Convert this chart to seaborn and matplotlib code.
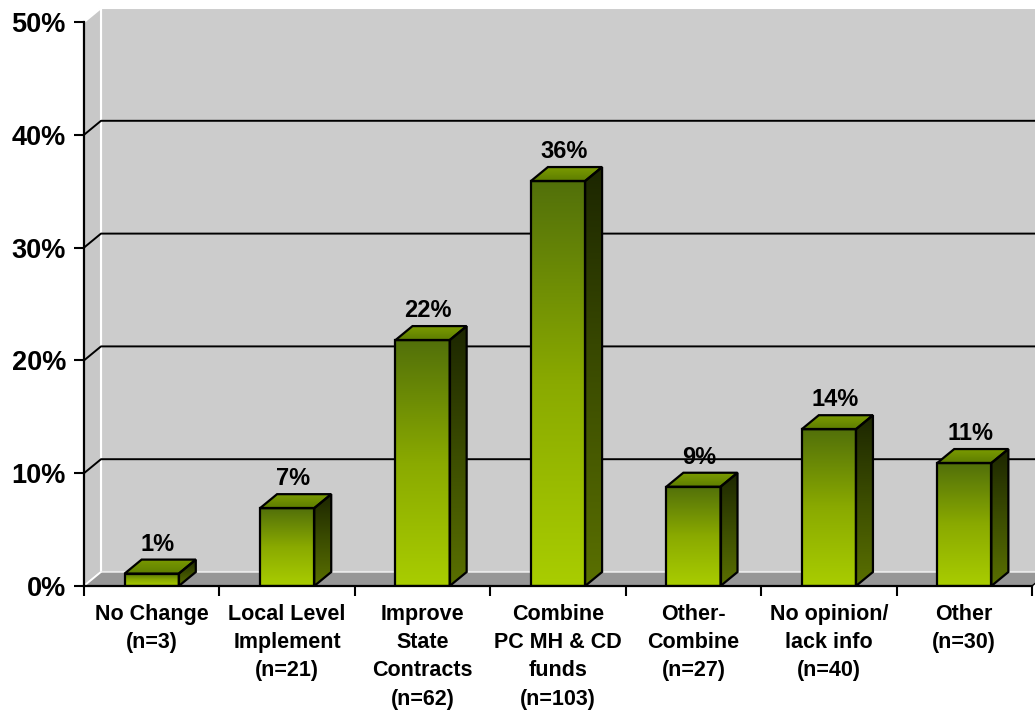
import numpy as np
import pandas as pd
import matplotlib
matplotlib.use("Agg")
import matplotlib.pyplot as plt
import seaborn as sns
from matplotlib.patches import Polygon, Rectangle
from matplotlib.colors import LinearSegmentedColormap

categories = ["No Change\n(n=3)", "Local Level\nImplement\n(n=21)",
              "Improve\nState\nContracts\n(n=62)", "Combine\nPC MH & CD\nfunds\n(n=103)",
              "Other-\nCombine\n(n=27)", "No opinion/\nlack info\n(n=40)", "Other\n(n=30)"]
values = [1.1, 6.9, 21.8, 35.9, 8.8, 13.9, 10.9]
value_labels = ["1%", "7%", "22%", "36%", "9%", "14%", "11%"]
yticks = [0, 10, 20, 30, 40, 50]
ytick_labels = ["0%", "10%", "20%", "30%", "40%", "50%"]

sns.set_theme(style="white")
plt.rcParams['font.family'] = ['Liberation Sans', 'DejaVu Sans']
plt.rcParams['text.color'] = 'black'
plt.rcParams['xtick.color'] = 'black'
plt.rcParams['ytick.color'] = 'black'
plt.rcParams['xtick.labelcolor'] = 'black'
plt.rcParams['ytick.labelcolor'] = 'black'

W, H = 1035, 714
fig = plt.figure(figsize=(W / 100, H / 100), dpi=100)
fig.patch.set_facecolor("white")
ax = fig.add_axes([84 / W, 128 / H, 948 / W, 564 / H])
ax.patch.set_visible(False)

df = pd.DataFrame({"cat": categories, "val": values})
sns.barplot(data=df, x="cat", y="val", color="#a8cc00", width=0.4, saturation=1,
            ax=ax, zorder=7)
bars = list(ax.patches)

DX = 17 / 135.43
DY = 14 / 11.28
XL, XR = -0.5, 6.5

# walls and floor
back = Rectangle((XL + DX, DY), XR - XL, 50, facecolor="#cccccc", edgecolor="white",
                 lw=1.5, clip_on=False, zorder=0)
ax.add_patch(back)
left = Polygon([(XL, 0), (XL + DX, DY), (XL + DX, 50 + DY), (XL, 50)], closed=True,
               facecolor="#c8c8c8", edgecolor="white", lw=1.5, clip_on=False, zorder=0.5)
ax.add_patch(left)
floor = Polygon([(XL, 0), (XR, 0), (XR + DX, DY), (XL + DX, DY)], closed=True,
                facecolor="#979797", edgecolor="none", clip_on=False, zorder=1)
ax.add_patch(floor)
ax.plot([XL + DX, XR + DX], [DY, DY], color="#e6e6e6", lw=1.2, clip_on=False, zorder=1.5)
ax.plot([XL, XL + DX], [0, DY], color="white", lw=1.2, clip_on=False, zorder=1.5)
ax.plot([XR, XR + DX], [0, DY], color="black", lw=1.0, clip_on=False, zorder=1.5)

for y in yticks[1:-1]:
    ax.plot([XL, XL + DX, XR + DX], [y, y + DY, y + DY], color="black", lw=1.4,
            clip_on=False, zorder=2)

front_cmap = LinearSegmentedColormap.from_list("f", ["#a9cd00", "#8aaa00", "#52700a"])
side_cmap = LinearSegmentedColormap.from_list("s", ["#5a7000", "#3c4d00", "#1c2600"])
top_cmap = LinearSegmentedColormap.from_list("t", ["#5e7e00", "#7a9a00"])
grad = np.linspace(0, 1, 256).reshape(-1, 1)

for p, lab in zip(bars, value_labels):
    x0, w, h = p.get_x(), p.get_width(), p.get_height()
    x1 = x0 + w
    ax.imshow(grad, extent=(x0, x1, 0, h), origin="lower", aspect="auto",
              cmap=front_cmap, zorder=6, interpolation="bilinear")
    p.set_facecolor("none")
    p.set_edgecolor("black")
    p.set_linewidth(1.6)
    p.set_zorder(8)
    # side face
    side = Polygon([(x1, 0), (x1 + DX, DY), (x1 + DX, h + DY), (x1, h)], closed=True,
                   facecolor="none", edgecolor="black", lw=1.6, zorder=8,
                   joinstyle="miter")
    ax.add_patch(side)
    im = ax.imshow(grad, extent=(x1, x1 + DX, 0, h + DY), origin="lower", aspect="auto",
                   cmap=side_cmap, zorder=6, interpolation="bilinear")
    im.set_clip_path(side)
    # top face
    top = Polygon([(x0, h), (x1, h), (x1 + DX, h + DY), (x0 + DX, h + DY)], closed=True,
                  facecolor="none", edgecolor="black", lw=1.6, zorder=8,
                  joinstyle="miter")
    ax.add_patch(top)
    im2 = ax.imshow(grad, extent=(x0, x1 + DX, h, h + DY), origin="lower", aspect="auto",
                    cmap=top_cmap, zorder=6, interpolation="bilinear")
    im2.set_clip_path(top)
    ax.text(x0 + w / 2 + DX / 2 - 0.02, h + DY + 0.35, lab, ha="center", va="bottom",
            fontsize=17, fontweight="bold", color="black", zorder=9)

ax.set_xlim(XL, XR)
ax.set_ylim(0, 50)

for s in ["top", "right"]:
    ax.spines[s].set_visible(False)
for s in ["left", "bottom"]:
    ax.spines[s].set_visible(True)
    ax.spines[s].set_color("black")
    ax.spines[s].set_linewidth(1.6)
    ax.spines[s].set_zorder(10)

ax.set_yticks(yticks)
ax.set_yticklabels(ytick_labels, fontsize=19.5, fontweight="bold")
ax.tick_params(axis="y", direction="out", length=7, width=1.5, color="black", pad=6,
               left=True)
ax.set_xticks(range(len(categories)))
ax.set_xticklabels(categories, fontsize=15.5, fontweight="bold", linespacing=1.45)
ax.set_xticks(np.arange(-0.5, 7, 1), minor=True)
ax.tick_params(axis="x", which="major", length=0, pad=13, bottom=True)
ax.tick_params(axis="x", which="minor", direction="out", length=7, width=1.5,
               color="black", bottom=True)
ax.set_xlabel("")
ax.set_ylabel("")
ax.grid(False)

fig.savefig("out.png", dpi=100, facecolor="white")
